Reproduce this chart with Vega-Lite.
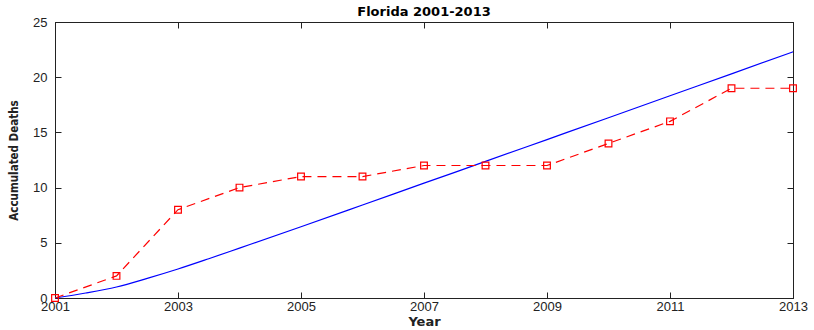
{
  "$schema": "https://vega.github.io/schema/vega-lite/v6.json",
  "autosize": "none",
  "width": 738,
  "height": 276,
  "padding": {"left": 55, "top": 22, "right": 21, "bottom": 32},
  "background": "white",
  "title": {"text": "Florida 2001-2013", "font": "DejaVu Sans", "fontSize": 13, "fontWeight": "bold", "color": "#000", "offset": -3},
  "config": {
    "view": {"stroke": "#222", "strokeWidth": 1},
    "axis": {"domainColor": "#222", "tickColor": "#222", "grid": false, "labelFont": "Liberation Sans", "labelFontSize": 13, "labelColor": "#222", "titleFont": "DejaVu Sans Condensed", "titleFontSize": 11.5, "titleFontWeight": "bold", "titleColor": "#222"}
  },
  "datasets": {
    "observed": [
      {"year": 2001, "deaths": 0}, {"year": 2002, "deaths": 2}, {"year": 2003, "deaths": 8},
      {"year": 2004, "deaths": 10}, {"year": 2005, "deaths": 11}, {"year": 2006, "deaths": 11},
      {"year": 2007, "deaths": 12}, {"year": 2008, "deaths": 12}, {"year": 2009, "deaths": 12},
      {"year": 2010, "deaths": 14}, {"year": 2011, "deaths": 16}, {"year": 2012, "deaths": 19},
      {"year": 2013, "deaths": 19}
    ],
    "model": [
      {"year": 2001, "deaths": 0}, {"year": 2001.5, "deaths": 0.45}, {"year": 2002, "deaths": 1.0},
      {"year": 2002.5, "deaths": 1.78}, {"year": 2003, "deaths": 2.63}, {"year": 2003.5, "deaths": 3.56},
      {"year": 2004, "deaths": 4.52}, {"year": 2005, "deaths": 6.45}, {"year": 2006, "deaths": 8.42},
      {"year": 2007, "deaths": 10.4}, {"year": 2008, "deaths": 12.37}, {"year": 2009, "deaths": 14.35},
      {"year": 2010, "deaths": 16.33}, {"year": 2011, "deaths": 18.32}, {"year": 2012, "deaths": 20.3},
      {"year": 2013, "deaths": 22.3}
    ]
  },
  "layer": [
    {
      "data": {"name": "model"},
      "mark": {"type": "line", "color": "#0000ff", "strokeWidth": 1.2, "interpolate": "monotone"},
      "encoding": {
        "x": {"field": "year", "type": "quantitative", "scale": {"domain": [2001, 2013], "nice": false, "zero": false},
              "axis": {"title": "Year", "titleFont": "DejaVu Sans", "titleFontSize": 13, "titlePadding": 2, "values": [2001, 2003, 2005, 2007, 2009, 2011, 2013], "format": "d", "tickSize": -6, "labelPadding": 8, "labelBaseline": "top", "labelFlush": false, "labelOverlap": false}},
        "y": {"field": "deaths", "type": "quantitative", "scale": {"domain": [0, 25], "nice": false},
              "axis": {"title": "Accumulated Deaths", "titlePadding": 13, "values": [0, 5, 10, 15, 20, 25], "tickSize": -6, "labelPadding": 14}}
      }
    },
    {
      "data": {"name": "observed"},
      "mark": {"type": "line", "color": "#ff0000", "strokeWidth": 1.2, "strokeDash": [9, 6]},
      "encoding": {
        "x": {"field": "year", "type": "quantitative", "axis": null},
        "y": {"field": "deaths", "type": "quantitative", "axis": null}
      }
    },
    {
      "data": {"name": "observed"},
      "mark": {"type": "point", "shape": "square", "filled": false, "color": "#ff0000", "size": 45, "strokeWidth": 1.2, "opacity": 1},
      "encoding": {
        "x": {"field": "year", "type": "quantitative", "axis": {"orient": "top", "labels": false, "title": null, "values": [2001, 2003, 2005, 2007, 2009, 2011, 2013], "tickSize": -6}},
        "y": {"field": "deaths", "type": "quantitative", "axis": {"orient": "right", "labels": false, "title": null, "values": [0, 5, 10, 15, 20, 25], "tickSize": -6}}
      }
    }
  ],
  "resolve": {"axis": {"x": "independent", "y": "independent"}}
}
